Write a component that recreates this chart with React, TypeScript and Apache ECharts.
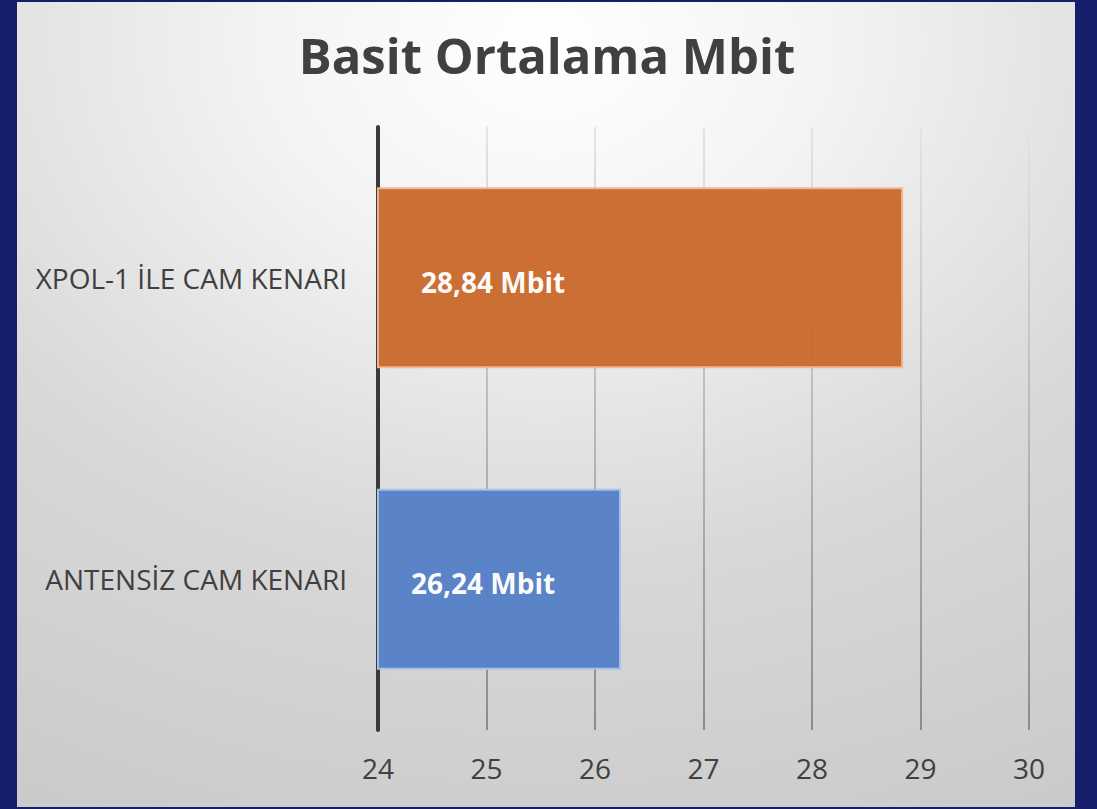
import React, { useEffect, useRef } from "react";
import * as echarts from "echarts";

const categories = ["ANTENSİZ CAM KENARI", "XPOL-1 İLE CAM KENARI"];
const values = [26.24, 28.84];
const barColors = ["#5780c7", "#c96a2e"];
const barBorders = ["#a9c2ea", "#f0b890"];
const labelDistances = [34, 44];
const xTicks = { min: 24, max: 30, interval: 1 };
const titleText = "Basit Ortalama Mbit";

const FONT = "'Open Sans', 'Noto Sans', sans-serif";

export default function App() {
  const ref = useRef<HTMLDivElement>(null);
  useEffect(() => {
    document.body.style.margin = "0";
    const chart = echarts.init(ref.current!, undefined, { renderer: "svg" });
    chart.setOption({
      animation: false,
      backgroundColor: "#161e6c",
      graphic: [
        {
          type: "rect",
          z: -10,
          shape: { x: 17, y: 2, width: 1058, height: 805 },
          style: {
            fill: new echarts.graphic.RadialGradient(0.5, 0.05, 1.3, [
              { offset: 0, color: "#ffffff" },
              { offset: 0.2, color: "#f4f4f4" },
              { offset: 0.5, color: "#d8d8d8" },
              { offset: 0.8, color: "#cbcbcb" },
              { offset: 1, color: "#c2c2c2" },
            ]),
          },
          silent: true,
        },
      ],
      title: {
        text: titleText,
        left: 542,
        textAlign: "center",
        top: 25,
        textStyle: { fontFamily: FONT, fontWeight: "bold", fontSize: 49, color: "#404040" },
      },
      grid: { left: 378, right: 68, top: 127, bottom: 79, containLabel: false },
      xAxis: {
        type: "value",
        min: xTicks.min,
        max: xTicks.max,
        interval: xTicks.interval,
        axisLine: { show: false },
        axisTick: { show: false },
        axisLabel: { color: "#404040", fontSize: 28, fontFamily: FONT, margin: 24 },
        splitLine: {
          show: true,
          lineStyle: {
            width: 2,
            color: new echarts.graphic.LinearGradient(0, 127, 0, 730, [
              { offset: 0, color: "#e4e4e4" },
              { offset: 1, color: "#8c8c8c" },
            ], true),
          },
        },
      },
      yAxis: {
        type: "category",
        data: categories,
        axisLine: { show: true, lineStyle: { color: "#3a3a3a", width: 4 } },
        axisTick: { show: false },
        axisLabel: { color: "#404040", fontSize: 28, fontFamily: FONT, margin: 31 },
        splitLine: { show: false },
      },
      series: [
        {
          type: "bar",
          barCategoryGap: "40%",
          data: values.map((v, i) => ({
            value: v,
            itemStyle: {
              color: barColors[i],
              opacity: 0.97,
              borderColor: barBorders[i],
              borderWidth: 2,
            },
            label: {
              show: true,
              position: "insideLeft",
              distance: labelDistances[i],
              offset: [0, 4],
              color: "#ffffff",
              fontFamily: FONT,
              fontWeight: "bold",
              fontSize: 28,
              formatter: (p: any) => `${p.value.toFixed(2).replace(".", ",")} Mbit`,
            },
          })),
        },
      ],
    });
    return () => chart.dispose();
  }, []);
  return <div ref={ref} style={{ width: 1097, height: 809 }} />;
}
